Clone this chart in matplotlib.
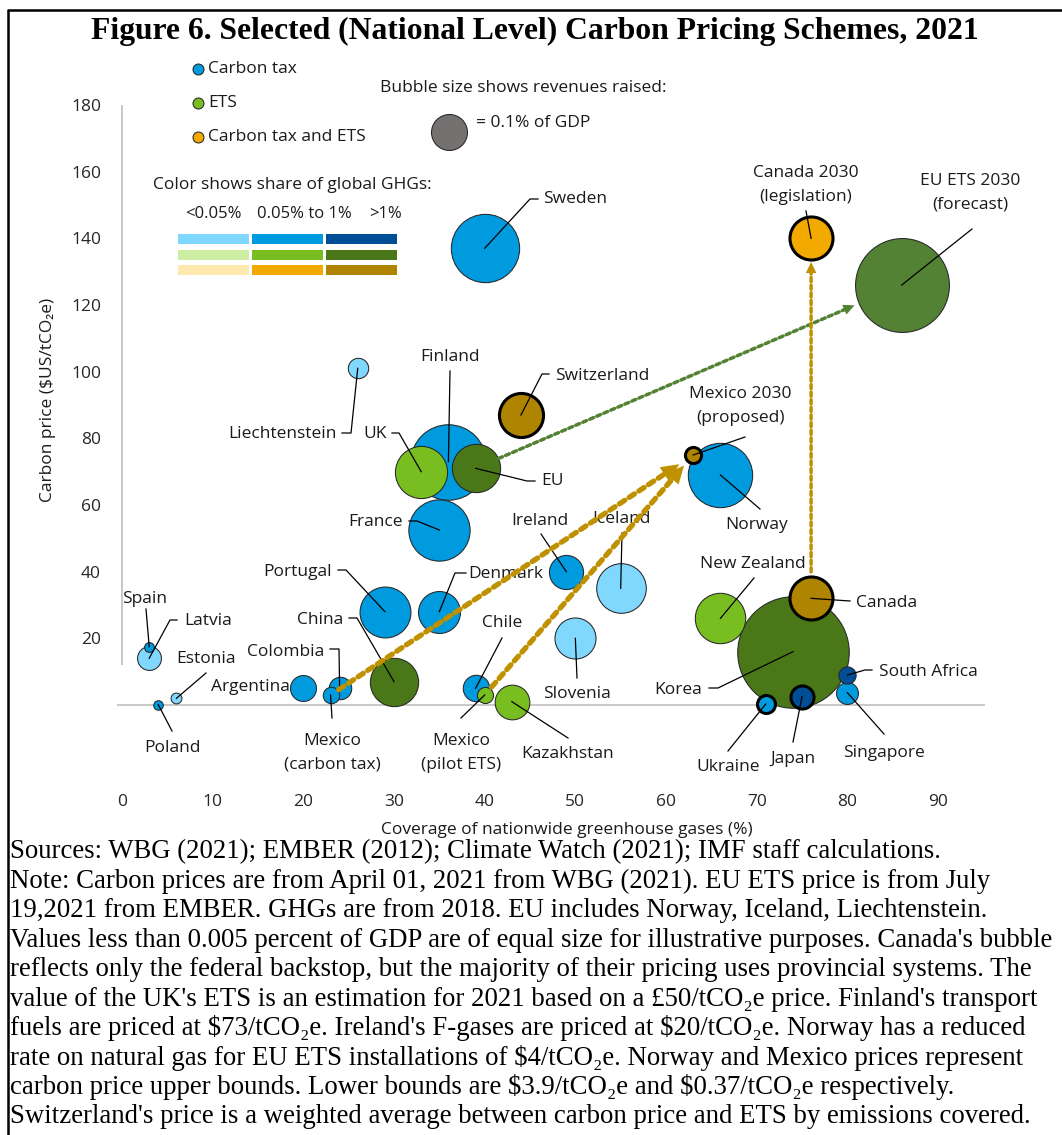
import matplotlib
matplotlib.use("Agg")
import matplotlib.pyplot as plt
from matplotlib.patches import Rectangle

plt.rcParams['font.family'] = ['Open Sans', 'DejaVu Sans']
SERIF = ['Liberation Serif', 'DejaVu Serif']

W, H = 1062, 1135

# ---- data -------------------------------------------------------------
names = ["Sweden", "Liechtenstein", "Finland", "UK", "EU", "Switzerland", "France",
         "Mexico 2030", "Norway", "Canada 2030", "EU ETS 2030", "Ireland", "Iceland",
         "Denmark", "Portugal", "Slovenia", "China", "Colombia", "Mexico (carbon tax)",
         "Argentina", "Spain", "Latvia", "Estonia", "Poland", "Chile", "Mexico (pilot ETS)",
         "Kazakhstan", "New Zealand", "Korea", "Canada", "South Africa", "Singapore",
         "Japan", "Ukraine"]
# coverage of nationwide GHGs (%)
coverage = [40, 26, 36, 33, 39, 44, 35,
            63, 66, 76, 86, 49, 55,
            35, 29, 50, 30, 24, 23,
            20, 3, 3, 6, 4, 39, 40,
            43, 66, 74, 76, 80, 80,
            75, 71]
# carbon price ($US/tCO2e)
price = [137, 101, 73, 70, 71, 87, 52.5,
         75, 69, 140, 126, 40, 35,
         28, 28, 20, 7, 5, 3,
         5, 17.5, 14, 2, 0.1, 5, 3,
         1, 26, 16, 32, 9, 3.7,
         2.5, 0.3]
# revenues raised (% of GDP)
revenue = [0.36, 0.032, 0.44, 0.21, 0.18, 0.15, 0.29,
           0.02, 0.32, 0.143, 0.68, 0.09, 0.19,
           0.136, 0.2, 0.13, 0.18, 0.039, 0.021,
           0.052, 0.0074, 0.044, 0.009, 0.007, 0.054, 0.02,
           0.093, 0.196, 0.96, 0.143, 0.023, 0.037,
           0.041, 0.025]
scheme = ["tax", "tax", "tax", "ets", "ets", "both", "tax",
          "both", "tax", "both", "ets", "tax", "tax",
          "tax", "tax", "tax", "ets", "tax", "tax",
          "tax", "tax", "tax", "tax", "tax", "tax", "ets",
          "ets", "ets", "ets", "both", "tax", "tax",
          "tax", "tax"]
# share of global GHGs: 0 = <0.05%, 1 = 0.05% to 1%, 2 = >1%
ghg_tier = [1, 0, 1, 1, 2, 2, 1,
            2, 1, 1, 2, 1, 0,
            1, 1, 0, 2, 1, 1,
            1, 1, 0, 0, 1, 1, 1,
            1, 1, 2, 2, 2, 1,
            2, 1]
thick_edge = ["Switzerland", "Mexico 2030", "Canada 2030", "Canada", "Japan", "Ukraine"]

arrows = [("EU", "EU ETS 2030"), ("Mexico (carbon tax)", "Mexico 2030"),
          ("Mexico (pilot ETS)", "Mexico 2030"), ("Canada", "Canada 2030")]

tier_labels = ["<0.05%", "0.05% to 1%", ">1%"]
legend_kinds = ["Carbon tax", "ETS", "Carbon tax and ETS"]

notes = [
    "Sources: WBG (2021); EMBER (2012); Climate Watch (2021); IMF staff calculations.",
    "Note: Carbon prices are from April 01, 2021 from WBG (2021). EU ETS price is from July",
    "19,2021 from EMBER. GHGs are from 2018. EU includes Norway, Iceland, Liechtenstein.",
    "Values less than 0.005 percent of GDP are of equal size for illustrative purposes. Canada's bubble",
    "reflects only the federal backstop, but the majority of their pricing uses provincial systems. The",
    "value of the UK's ETS is an estimation for 2021 based on a £50/tCO₂e price. Finland's transport",
    "fuels are priced at $73/tCO₂e. Ireland's F-gases are priced at $20/tCO₂e. Norway has a reduced",
    "rate on natural gas for EU ETS installations of $4/tCO₂e. Norway and Mexico prices represent",
    "carbon price upper bounds. Lower bounds are $3.9/tCO₂e and $0.37/tCO₂e respectively.",
    "Switzerland's price is a weighted average between carbon price and ETS by emissions covered.",
]

# ---- styles -----------------------------------------------------------
palette = {"tax": ["#80D8FF", "#009ADE", "#004F96"],
           "ets": ["#CDEDA3", "#78BE21", "#4A7818"],
           "both": ["#FFE9AE", "#F2A900", "#AF8400"]}
color_override = {"EU ETS 2030": "#548235"}
GOLD = "#BF9000"
GREEN = "#548235"
SIZE_PER_PCT = 6718  # marker area (pt^2) for 1% of GDP
FS = 12.5

# layout: reference pixel -> data
PX0, PXU = 122, 9.067
PY0, PYU = 705, 3.3333


def px_x(px):
    return (px - PX0) / PXU


def px_y(py):
    return (PY0 - py) / PYU


# label text, x px, y px, alignment, leader points (px) before the bubble centre
labels = {
    "Sweden": ("Sweden", 543, 199, "left", [(538, 199), (530, 199)]),
    "Liechtenstein": ("Liechtenstein", 337, 434, "right", [(342, 433), (351, 433)]),
    "Finland": ("Finland", 450, 357, "center", [(450, 371)]),
    "UK": ("UK", 387, 434, "right", [(392, 433), (399, 433)]),
    "EU": ("EU", 541, 481, "left", [(535, 481), (527, 481)]),
    "Switzerland": ("Switzerland", 555, 376, "left", [(549, 374), (542, 374)]),
    "France": ("France", 403, 522, "right", [(409, 521), (417, 521)]),
    "Mexico 2030": ("Mexico 2030\n(proposed)", 740, 406, "center", [(745, 437)]),
    "Norway": ("Norway", 757, 525, "center", [(760, 509)]),
    "Canada 2030": ("Canada 2030\n(legislation)", 806, 185, "center", [(806, 211)]),
    "EU ETS 2030": ("EU ETS 2030\n(forecast)", 970, 193, "center", [(972, 229)]),
    "Ireland": ("Ireland", 540, 521, "center", [(541, 534)]),
    "Iceland": ("Iceland", 622, 519, "center", [(622, 533)]),
    "Denmark": ("Denmark", 468, 574, "left", [(466, 573), (455, 573)]),
    "Portugal": ("Portugal", 332, 572, "right", [(338, 570), (346, 570)]),
    "Slovenia": ("Slovenia", 577, 694, "center", [(577, 678)]),
    "China": ("China", 343, 620, "right", [(349, 618), (357, 618)]),
    "Colombia": ("Colombia", 324, 652, "right", [(330, 649), (339, 649)]),
    "Mexico (carbon tax)": ("Mexico\n(carbon tax)", 332, 753, "center", [(332, 718)]),
    "Argentina": ("Argentina", 290, 687, "right", []),
    "Spain": ("Spain", 145, 599, "center", [(146, 609)]),
    "Latvia": ("Latvia", 184, 621, "left", [(177, 620), (170, 620)]),
    "Estonia": ("Estonia", 206, 659, "center", [(206, 673)]),
    "Poland": ("Poland", 172, 748, "center", [(172, 731)]),
    "Chile": ("Chile", 502, 623, "center", [(502, 638)]),
    "Mexico (pilot ETS)": ("Mexico\n(pilot ETS)", 461, 753, "center", [(461, 718)]),
    "Kazakhstan": ("Kazakhstan", 568, 754, "center", [(568, 738)]),
    "New Zealand": ("New Zealand", 753, 564, "center", [(754, 578)]),
    "Korea": ("Korea", 702, 690, "right", [(709, 688), (718, 688)]),
    "Canada": ("Canada", 856, 603, "left", [(850, 601)]),
    "South Africa": ("South Africa", 879, 672, "left", [(872, 670), (865, 670)]),
    "Singapore": ("Singapore", 884, 753, "center", [(884, 734)]),
    "Japan": ("Japan", 793, 759, "center", [(793, 742)]),
    "Ukraine": ("Ukraine", 728, 767, "center", [(728, 751)]),
}

# arrow shrink (points) at start / end, colour, width, head length / width
arrow_style = [(18, 37, GREEN, 2.5, 0.8, 0.38),
               (7, 12, GOLD, 3.8, 1.3, 0.6),
               (7.5, 10, GOLD, 3.8, 1.3, 0.6),
               (19, 17, GOLD, 2.5, 0.8, 0.38)]

# ---- figure -----------------------------------------------------------
fig = plt.figure(figsize=(W / 100, H / 100), dpi=100)

xlim = (-2, 97)
ylim = (-25, 190)
left = PX0 + xlim[0] * PXU
right = PX0 + xlim[1] * PXU
top = PY0 - ylim[1] * PYU
bottom = PY0 - ylim[0] * PYU
ax = fig.add_axes([left / W, 1 - bottom / H, (right - left) / W, (bottom - top) / H])
ax.set_xlim(*xlim)
ax.set_ylim(*ylim)
for s in ax.spines.values():
    s.set_visible(False)
ax.patch.set_visible(False)
ax.set_xticks(range(0, 91, 10))
ax.set_yticks(range(20, 181, 20))
ax.tick_params(length=0, labelsize=FS, labelcolor="#262626", pad=2)
ax.tick_params(axis="x", pad=4)

ax.hlines(0, -0.5, 95.2, color="#BFBFBF", lw=1.2, zorder=1)
ax.vlines(0, 12, 180, color="#BFBFBF", lw=1.2, zorder=1)

# bubbles, largest first
order = sorted(range(len(names)), key=lambda i: -revenue[i])
for rank, i in enumerate(order):
    col = color_override.get(names[i], palette[scheme[i]][ghg_tier[i]])
    thick = names[i] in thick_edge
    ax.scatter(coverage[i], price[i], s=revenue[i] * SIZE_PER_PCT, c=col,
               edgecolors="black" if thick else "#262626",
               linewidths=2.2 if thick else 0.75, zorder=10 + rank)

# labels and leader lines
for name, (txt, tx, ty, ha, pts) in labels.items():
    i = names.index(name)
    if pts:
        xs = [px_x(p[0]) for p in pts] + [coverage[i]]
        ys = [px_y(p[1]) for p in pts] + [price[i]]
        ax.plot(xs, ys, color="black", lw=0.9, zorder=60)
    ax.text(px_x(tx), px_y(ty), txt, ha=ha, va="center", fontsize=FS,
            color="#1a1a1a", zorder=65, linespacing=1.6)

# dotted arrows: dotted shaft plus a solid head
for (a, b), (sa, sb, col, lw, hl, hw) in zip(arrows, arrow_style):
    ia, ib = names.index(a), names.index(b)
    start, end = (coverage[ia], price[ia]), (coverage[ib], price[ib])
    ax.annotate("", xy=end, xytext=start,
                arrowprops=dict(arrowstyle="-", color=col, lw=lw,
                                linestyle=(0, (1.2, 1)),
                                shrinkA=sa, shrinkB=sb + hl * 10 * 0.8),
                zorder=70)
    ax.annotate("", xy=end, xytext=start,
                arrowprops=dict(arrowstyle=f"-|>,head_length={hl},head_width={hw}",
                                color=col, lw=0, shrinkA=sa, shrinkB=sb),
                zorder=71)

# ---- overlay in pixel space -------------------------------------------
ov = fig.add_axes([0, 0, 1, 1])
ov.set_xlim(0, W)
ov.set_ylim(H, 0)
ov.axis("off")

ov.plot([7, W], [10, 10], color="black", lw=1.8, solid_capstyle="butt")
ov.plot([8, 8], [10, H], color="black", lw=1.8, solid_capstyle="butt")

ov.text(535, 31, "Figure 6. Selected (National Level) Carbon Pricing Schemes, 2021",
        ha="center", va="center", fontsize=22.8, fontweight="bold", family=SERIF)

# legend: scheme type
for k, (lab, key) in enumerate(zip(legend_kinds, ["tax", "ets", "both"])):
    y = 69 + k * 34
    ov.scatter(198, y, s=62, c=palette[key][1], edgecolors="#262626", linewidths=0.75)
    ov.text(208, y, lab, ha="left", va="center", fontsize=FS, color="#1a1a1a")

# legend: bubble size
ov.text(523, 88, "Bubble size shows revenues raised:", ha="center", va="center",
        fontsize=FS, color="#1a1a1a")
ov.scatter(449, 132, s=0.1 * SIZE_PER_PCT, c="#767171", edgecolors="#262626", linewidths=0.75)
ov.text(476, 123, "= 0.1% of GDP", ha="left", va="center", fontsize=FS, color="#1a1a1a")

# legend: colour shades
ov.text(153, 185, "Color shows share of global GHGs:", ha="left", va="center",
        fontsize=FS, color="#1a1a1a")
for cx, lab in zip([213, 304, 386], tier_labels):
    ov.text(cx, 214, lab, ha="center", va="center", fontsize=FS - 0.5, color="#1a1a1a")
col_x = [(178, 249), (252, 323), (326, 397)]
for r, key in enumerate(["tax", "ets", "both"]):
    y0 = 234 + r * 15.5
    for c in range(3):
        ov.add_patch(Rectangle((col_x[c][0], y0), col_x[c][1] - col_x[c][0], 10,
                               facecolor=palette[key][c], edgecolor="none"))

# axis titles
ov.text(48, 400, "Carbon price ($US/tCO₂e)", rotation=90, ha="center", va="center",
        fontsize=FS, color="#1a1a1a", parse_math=False)
ov.text(567, 830, "Coverage of nationwide greenhouse gases (%)", ha="center", va="center",
        fontsize=FS, color="#1a1a1a")

# notes
for k, line in enumerate(notes):
    ov.text(10, 852 + k * 29.4, line, ha="left", va="center", fontsize=19.3,
            family=SERIF, parse_math=False)

fig.savefig("out.png", dpi=100)
